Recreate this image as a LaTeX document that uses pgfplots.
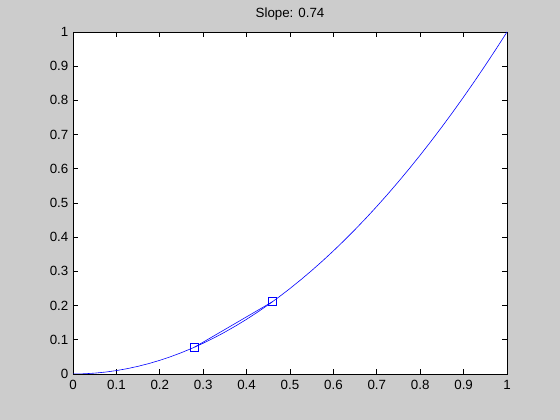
\documentclass[border=0pt]{standalone}
\usepackage{fontspec}
\setmainfont{Liberation Sans}
\usepackage{pgfplots}
\pgfplotsset{compat=1.18}
\definecolor{figbg}{RGB}{204,204,204}
\begin{document}
\begin{tikzpicture}
\fill[figbg] (0,0) rectangle (420pt,315pt);
\begin{axis}[
  at={(54.75pt,34.5pt)}, anchor=south west,
  scale only axis, width=325.5pt, height=256.5pt,
  xmin=0, xmax=1, ymin=0, ymax=1,
  xtick={0,0.1,...,1}, ytick={0,0.1,...,1},
  tick align=inside, major tick length=3.75pt,
  xtick pos=both, ytick pos=both,
  axis background/.style={fill=white},
  axis line style={line width=0.6pt},
  tick style={line width=0.6pt, black},
  /pgf/number format/assume math mode=true,
  ticklabel style={font=\fontsize{10}{12}\selectfont},
  xticklabel style={yshift=-1pt},
  title={Slope: 0.74},
  title style={font=\fontsize{10}{12}\selectfont, yshift=-1pt},
  clip=true,
]
\addplot[blue, line width=0.45pt, mark=none] coordinates {
(0,0) (0.025,0.000625) (0.05,0.0025) (0.075,0.005625) (0.1,0.01) (0.125,0.015625) (0.15,0.0225) (0.175,0.030625) (0.2,0.04) (0.225,0.050625) (0.25,0.0625) (0.275,0.075625) (0.3,0.09) (0.325,0.105625) (0.35,0.1225) (0.375,0.140625) (0.4,0.16) (0.425,0.180625) (0.45,0.2025) (0.475,0.225625) (0.5,0.25) (0.525,0.275625) (0.55,0.3025) (0.575,0.330625) (0.6,0.36) (0.625,0.390625) (0.65,0.4225) (0.675,0.455625) (0.7,0.49) (0.725,0.525625) (0.75,0.5625) (0.775,0.600625) (0.8,0.64) (0.825,0.680625) (0.85,0.7225) (0.875,0.765625) (0.9,0.81) (0.925,0.855625) (0.95,0.9025) (0.975,0.950625) (1,1)
};
\addplot[blue, line width=0.45pt, mark=square, mark size=3pt, mark options={solid, line width=0.5pt}] coordinates {
(0.28,0.0784) (0.46,0.2116)
};
\end{axis}
\end{tikzpicture}
\end{document}
